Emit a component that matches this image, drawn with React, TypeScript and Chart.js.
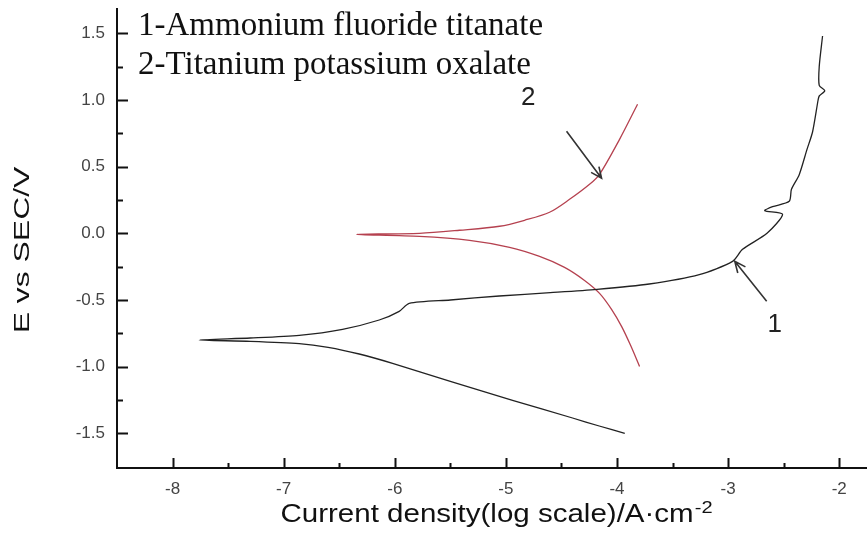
import React, { useEffect, useRef } from "react";
import { Chart, registerables } from "chart.js";

Chart.register(...registerables);

// ---- axis ranges & ticks ----
const X_MIN = -8.5;
const X_MAX = -1.75;
const Y_MIN = -1.76;
const Y_MAX = 1.69;
const xTicks = [-8, -7, -6, -5, -4, -3, -2];
const yTicks = [-1.5, -1.0, -0.5, 0.0, 0.5, 1.0, 1.5];
const X_MINOR_STEP = 0.5;
const Y_MINOR_STEP = 0.25;

// ---- series names ----
const seriesNames = ["1-Ammonium fluoride titanate", "2-Titanium potassium oxalate"];
const xTitle = "Current density(log scale)/A\u00B7cm";
const xTitleSup = "-2";
const yTitle = "E vs SEC/V";

// ---- curve 1 (black): log current density and potential ----
const curve1X = [
  -3.93, -4.16, -4.40, -4.94, -5.50, -6.02, -6.32, -6.60, -6.86, -7.30, -7.76,
  -7.30, -6.86, -6.47, -6.14, -5.96, -5.87, -5.50, -5.06, -4.60, -4.18,
  -3.71, -3.26, -2.96, -2.87, -2.65, -2.51, -2.67, -2.60, -2.45, -2.43,
  -2.36, -2.29, -2.24, -2.19, -2.18, -2.13, -2.18, -2.18, -2.15,
];
const curve1Y = [
  -1.50, -1.445, -1.385, -1.253, -1.11, -0.975, -0.905, -0.855, -0.827, -0.81, -0.80,
  -0.785, -0.765, -0.72, -0.65, -0.585, -0.525, -0.50, -0.47, -0.445, -0.42,
  -0.38, -0.31, -0.21, -0.12, 0.0, 0.143, 0.17, 0.20, 0.24, 0.33,
  0.44, 0.63, 0.76, 1.0, 1.03, 1.07, 1.11, 1.25, 1.48,
];

// ---- curve 2 (red) ----
const curve2X = [
  -3.797, -3.878, -3.959, -4.049, -4.157, -4.292, -4.472, -4.697, -4.967, -5.327, -5.777, -6.344,
  -5.777, -5.417, -5.057, -4.832, -4.607, -4.427, -4.247, -4.157, -3.977, -3.815,
];
const curve2Y = [
  -0.998, -0.84, -0.698, -0.57, -0.45, -0.353, -0.255, -0.173, -0.105, -0.053, -0.023, -0.008,
  0.0, 0.023, 0.053, 0.098, 0.158, 0.255, 0.368, 0.443, 0.705, 0.968,
];

// ---- annotation arrows (data coordinates) ----
const arrowLabels = ["2", "1"];
const arrowFromX = [-4.454, -2.653];
const arrowFromY = [0.765, -0.51];
const arrowToX = [-4.139, -2.94];
const arrowToY = [0.413, -0.21];
const labelX = [-4.8, -2.58];
const labelY = [1.02, -0.683];

const CURVE1_COLOR = "#222222";
const CURVE2_COLOR = "#b5414f";

const toPoints = (xs: number[], ys: number[]) => xs.map((x, i) => ({ x, y: ys[i] }));

const SANS = "Arial, 'Liberation Sans', sans-serif";
const SERIF = "'Times New Roman', 'Liberation Serif', serif";

const decorPlugin = {
  id: "decor",
  afterDraw(chart: any) {
    const { ctx, chartArea: a, scales } = chart;
    const xs = scales.x;
    const ys = scales.y;
    ctx.save();

    // axis lines
    ctx.strokeStyle = "#111";
    ctx.lineWidth = 2;
    ctx.beginPath();
    ctx.moveTo(a.left, a.top);
    ctx.lineTo(a.left, a.bottom);
    ctx.lineTo(a.right, a.bottom);
    ctx.stroke();

    // inward ticks on x
    ctx.beginPath();
    for (let v = xTicks[0] - X_MINOR_STEP; v <= X_MAX + 1e-9; v += X_MINOR_STEP) {
      const px = xs.getPixelForValue(v);
      if (px <= a.left + 2) continue;
      const major = Math.abs(v - Math.round(v)) < 1e-6;
      const len = major ? 10 : 5;
      ctx.moveTo(Math.round(px) + 0.5, a.bottom);
      ctx.lineTo(Math.round(px) + 0.5, a.bottom - len);
    }
    // inward ticks on y
    for (let v = yTicks[0]; v <= Y_MAX + 1e-9; v += Y_MINOR_STEP) {
      const py = ys.getPixelForValue(v);
      const major = Math.abs(v * 2 - Math.round(v * 2)) < 1e-6;
      const len = major ? 11 : 6;
      ctx.moveTo(a.left, Math.round(py) + 0.5);
      ctx.lineTo(a.left + len, Math.round(py) + 0.5);
    }
    ctx.stroke();

    // legend-like text
    ctx.fillStyle = "#111";
    ctx.font = `33px ${SERIF}`;
    ctx.textAlign = "left";
    ctx.textBaseline = "alphabetic";
    ctx.fillText(seriesNames[0], a.left + 21, 35);
    ctx.fillText(seriesNames[1], a.left + 21, 74);

    // arrows & labels
    ctx.strokeStyle = "#333";
    ctx.lineWidth = 1.6;
    ctx.fillStyle = "#222";
    ctx.font = `26px ${SANS}`;
    ctx.textAlign = "center";
    ctx.textBaseline = "middle";
    for (let i = 0; i < arrowLabels.length; i++) {
      const x0 = xs.getPixelForValue(arrowFromX[i]);
      const y0 = ys.getPixelForValue(arrowFromY[i]);
      const x1 = xs.getPixelForValue(arrowToX[i]);
      const y1 = ys.getPixelForValue(arrowToY[i]);
      ctx.beginPath();
      ctx.moveTo(x0, y0);
      ctx.lineTo(x1, y1);
      const ang = Math.atan2(y1 - y0, x1 - x0);
      const hl = 12;
      const spread = 0.42;
      ctx.moveTo(x1 - hl * Math.cos(ang - spread), y1 - hl * Math.sin(ang - spread));
      ctx.lineTo(x1, y1);
      ctx.lineTo(x1 - hl * Math.cos(ang + spread), y1 - hl * Math.sin(ang + spread));
      ctx.stroke();
      ctx.fillText(arrowLabels[i], xs.getPixelForValue(labelX[i]), ys.getPixelForValue(labelY[i]));
    }

    // x title (slightly stretched horizontally like the reference)
    ctx.fillStyle = "#111";
    ctx.textAlign = "left";
    ctx.textBaseline = "alphabetic";
    const stretch = 1.18;
    ctx.font = `25px ${SANS}`;
    const mainW = ctx.measureText(xTitle).width * stretch;
    ctx.font = `17px ${SANS}`;
    const supW = ctx.measureText(xTitleSup).width * stretch;
    const total = mainW + supW;
    const cx = 496;
    const startX = cx - total / 2;
    ctx.save();
    ctx.translate(startX, 522);
    ctx.scale(stretch, 1);
    ctx.font = `25px ${SANS}`;
    ctx.fillText(xTitle, 0, 0);
    ctx.font = `17px ${SANS}`;
    ctx.fillText(xTitleSup, mainW / stretch + 1, -9);
    ctx.restore();

    // y title, rotated
    ctx.save();
    ctx.translate(29, 250);
    ctx.rotate(-Math.PI / 2);
    ctx.scale(1.45, 1);
    ctx.font = `22px ${SANS}`;
    ctx.textAlign = "center";
    ctx.textBaseline = "alphabetic";
    ctx.fillText(yTitle, 0, 0);
    ctx.restore();

    ctx.restore();
  },
};

export default function App() {
  const ref = useRef<HTMLCanvasElement | null>(null);

  useEffect(() => {
    if (!ref.current) return;
    const chart = new Chart(ref.current, {
      type: "scatter",
      data: {
        datasets: [
          {
            label: seriesNames[0],
            data: toPoints(curve1X, curve1Y),
            showLine: true,
            borderColor: CURVE1_COLOR,
            borderWidth: 1.3,
            pointRadius: 0,
            tension: 0.25,
            fill: false,
          },
          {
            label: seriesNames[1],
            data: toPoints(curve2X, curve2Y),
            showLine: true,
            borderColor: CURVE2_COLOR,
            borderWidth: 1.3,
            pointRadius: 0,
            tension: 0.3,
            fill: false,
          },
        ],
      },
      options: {
        responsive: false,
        animation: false,
        layout: { padding: { top: 8, left: 0, right: 0, bottom: 0 } },
        plugins: { legend: { display: false }, tooltip: { enabled: false } },
        scales: {
          x: {
            type: "linear",
            min: X_MIN,
            max: X_MAX,
            grid: { display: false, drawTicks: false },
            border: { display: false },
            ticks: {
              padding: 11,
              color: "#444",
              font: { family: SANS, size: 17 },
              callback: (v: any) => String(v),
            },
            afterBuildTicks: (s: any) => {
              s.ticks = xTicks.map((v) => ({ value: v }));
            },
            afterFit: (s: any) => {
              s.height = 67;
              s.paddingLeft = 0;
              s.paddingRight = 0;
            },
          },
          y: {
            type: "linear",
            min: Y_MIN,
            max: Y_MAX,
            grid: { display: false, drawTicks: false },
            border: { display: false },
            ticks: {
              padding: 12,
              color: "#444",
              font: { family: SANS, size: 17 },
              callback: (v: any) => Number(v).toFixed(1),
            },
            afterBuildTicks: (s: any) => {
              s.ticks = yTicks.map((v) => ({ value: v }));
            },
            afterFit: (s: any) => {
              s.width = 117;
              s.paddingTop = 0;
              s.paddingBottom = 0;
            },
          },
        },
      },
      plugins: [decorPlugin],
    });
    return () => chart.destroy();
  }, []);

  return (
    <div style={{ position: "absolute", left: 0, top: 0, width: 867, height: 535, background: "#fff" }}>
      <canvas ref={ref} width={867} height={535} style={{ display: "block" }} />
    </div>
  );
}
